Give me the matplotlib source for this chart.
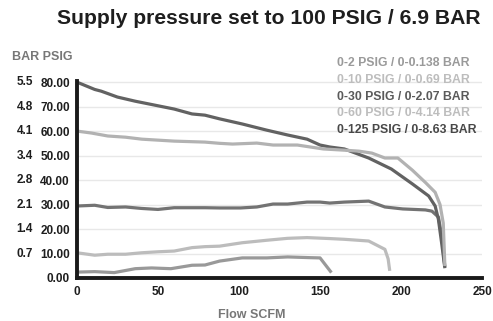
import matplotlib
matplotlib.use("Agg")
import matplotlib.pyplot as plt
from matplotlib.lines import Line2D
from matplotlib.transforms import blended_transform_factory

plt.rcParams['font.family'] = ['Liberation Sans', 'DejaVu Sans']
plt.rcParams['font.weight'] = 'bold'

# Flow (SCFM) vs outlet pressure (PSIG) for each regulator range
x_125 = [0, 11, 15, 25, 36, 48, 60, 71, 79, 88, 102, 117, 130, 142, 150, 156, 165, 180, 194, 207, 217, 221, 223, 225, 227]
y_125 = [80, 77, 76.3, 73.9, 72.2, 70.6, 69, 67, 66.5, 65, 62.9, 60.4, 58.4, 56.7, 54.3, 53.5, 52.7, 49, 44.5, 38.4, 33.5, 29.4, 24, 14.3, 4]

x_60 = [0, 9, 19, 30, 40, 50, 60, 79, 88, 96, 111, 121, 136, 144, 152, 165, 174, 182, 190, 198, 207, 215, 221, 224, 226, 227]
y_60 = [60, 59.2, 58, 57.5, 56.7, 56.3, 55.9, 55.5, 55, 54.7, 55.1, 54.3, 54.3, 53.5, 52.7, 52.2, 51.8, 51, 49, 49, 44, 39, 35, 30, 22.4, 4.9]

x_30 = [0, 11, 19, 30, 40, 50, 60, 79, 88, 101, 111, 121, 130, 142, 150, 156, 165, 180, 190, 201, 215, 219, 223, 225, 227]
y_30 = [29.4, 29.7, 28.8, 29, 28.4, 28, 28.7, 28.7, 28.6, 28.6, 29, 30.2, 30.2, 31, 31, 30.6, 31, 31.4, 29, 28.2, 27.8, 27.3, 24.9, 17.5, 4.5]

x_10 = [0, 11, 19, 30, 40, 50, 60, 71, 79, 88, 102, 117, 130, 142, 156, 165, 180, 190, 192, 193]
y_10 = [10.3, 9.3, 9.7, 9.7, 10.3, 10.7, 11, 12.4, 12.8, 13, 14.4, 15.4, 16.2, 16.5, 16.1, 15.8, 15.1, 11.7, 7.8, 2.9]

x_2 = [0, 11, 23, 36, 46, 58, 71, 79, 88, 102, 117, 130, 144, 150, 157]
y_2 = [2.4, 2.6, 2.2, 3.8, 4.1, 3.8, 5.2, 5.3, 6.9, 8.2, 8.2, 8.6, 8.3, 8.2, 2.2]

labels = ["0-2 PSIG / 0-0.138 BAR", "0-10 PSIG / 0-0.69 BAR", "0-30 PSIG / 0-2.07 BAR",
          "0-60 PSIG / 0-4.14 BAR", "0-125 PSIG / 0-8.63 BAR"]
label_colors = ["#9a9a9a", "#bdbdbd", "#5a5a5a", "#bdbdbd", "#484848"]

psig_ticks = [0, 10, 20, 30, 40, 50, 60, 70, 80]
bar_labels = ["", "0.7", "1.4", "2.1", "2.8", "3.4", "4.1", "4.8", "5.5"]
x_ticks = [0, 50, 100, 150, 200, 250]

fig = plt.figure(figsize=(4.93, 3.21), dpi=100)
ax = fig.add_axes([0.156, 0.134, 0.822, 0.614])

lw = 2.3
ax.plot(x_2, y_2, color="#999999", lw=lw, solid_capstyle="butt")
ax.plot(x_10, y_10, color="#bcbcbc", lw=lw, solid_capstyle="butt")
ax.plot(x_30, y_30, color="#737373", lw=lw, solid_capstyle="butt")
ax.plot(x_125, y_125, color="#626262", lw=lw, solid_capstyle="butt")
ax.plot(x_60, y_60, color="#b2b2b2", lw=lw, solid_capstyle="butt")

ax.set_xlim(0, 250)
ax.set_ylim(0, 80.5)
ax.set_xticks(x_ticks)
ax.set_yticks(psig_ticks)
ax.set_yticklabels([f"{v:.2f}" for v in psig_ticks])
ax.tick_params(length=0, labelsize=8.5, colors="#1e1e1e")
ax.tick_params(axis="y", pad=5)
ax.tick_params(axis="x", pad=6)
ax.grid(axis="y", color="#e8e8e8", lw=1)
ax.set_axisbelow(True)
for s in ["top", "right"]:
    ax.spines[s].set_visible(False)
for s in ["left", "bottom"]:
    ax.spines[s].set_linewidth(2.8)
    ax.spines[s].set_color("#1a1a1a")

# BAR column next to PSIG tick labels
trans = blended_transform_factory(fig.transFigure, ax.transData)
for v, b in zip(psig_ticks, bar_labels):
    fig.text(33 / 493, v, b, transform=trans, ha="right", va="center",
             fontsize=8.5, color="#1e1e1e")

fig.text(12 / 493, 1 - 57.5 / 321, "BAR PSIG", ha="left", va="center",
         fontsize=9, color="#777777")
fig.text(252 / 493, 1 - 315 / 321, "Flow SCFM", ha="center", va="center",
         fontsize=9, color="#777777")
fig.text(268.5 / 493, 1 - 18 / 321, "Supply pressure set to 100 PSIG / 6.9 BAR",
         ha="center", va="center", fontsize=15.2, color="#1e1e1e")

handles = [Line2D([], [], lw=0) for _ in labels]
leg = fig.legend(handles, labels, loc="upper left", bbox_to_anchor=(337 / 493, 1 - 57.5 / 321),
                 frameon=False, handlelength=0, handletextpad=0, labelspacing=0.38,
                 fontsize=8.8, borderaxespad=0, borderpad=0)
for t, c in zip(leg.get_texts(), label_colors):
    t.set_color(c)

fig.savefig("out.png", dpi=100)
